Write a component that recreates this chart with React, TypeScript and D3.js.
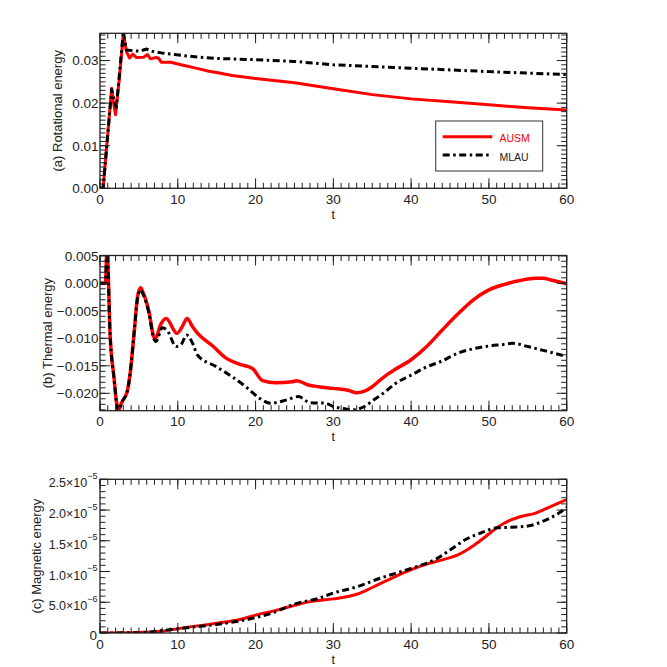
import React from 'react';
import * as d3 from 'd3';

const W = 667;
const H = 667;
const FONT = '"Liberation Sans", Arial, Helvetica, sans-serif';
const RED = '#ff0000';
const INK = '#222';
const DASHDOT = '7,3.5,2.5,3.5';

// shared time axis
const xMajor = [0, 10, 20, 30, 40, 50, 60];
const xMinor = d3.range(0, 61, 1);

// (a) rotational energy
const rotAusmT = [0, 0.4, 1.5, 1.7, 2.0, 2.5, 3.0, 3.4, 3.8, 4.2, 4.7, 5.6, 6.1, 6.5, 7.1, 7.5, 7.9, 9.1, 10.4, 12.6, 14, 15, 17, 20, 25, 30, 35, 40, 45, 50, 55, 60];
const rotAusm = [0, 0, 0.0235, 0.0205, 0.0173, 0.026, 0.0362, 0.0321, 0.0306, 0.0315, 0.0307, 0.0308, 0.0314, 0.0304, 0.0307, 0.0306, 0.0296, 0.0296, 0.029, 0.0281, 0.0275, 0.0272, 0.0265, 0.0258, 0.0248, 0.0234, 0.022, 0.021, 0.0203, 0.0196, 0.0189, 0.0184];
const rotMlauT = [0, 0.4, 1.5, 1.9, 2.1, 3.0, 3.4, 4.3, 5.1, 6.0, 6.7, 7.9, 9.6, 12.6, 15, 20, 25, 30, 40, 50, 60];
const rotMlau = [0, 0, 0.0232, 0.02, 0.019, 0.0368, 0.0325, 0.0323, 0.0322, 0.0327, 0.0322, 0.0318, 0.0314, 0.0308, 0.0305, 0.0302, 0.0298, 0.029, 0.0282, 0.0274, 0.0267];
const rotMajor = [0, 0.01, 0.02, 0.03];

// (b) thermal energy
const thAusmT = [0, 0.7, 0.9, 1.3, 1.8, 2.2, 2.35, 2.85, 3.5, 3.9, 4.4, 4.8, 5.2, 5.6, 6.3, 6.9, 7.1, 7.8, 8.5, 9.9, 10.6, 11.2, 11.9, 12.5, 14.5, 16.2, 17.9, 19.6, 20.9, 22.6, 24.7, 25.3, 26.8, 28.1, 30, 32, 33, 34, 35, 36, 37, 38, 40, 42, 44, 46, 48, 50, 52, 54, 56, 57, 58, 60];
const thAusm = [0, 0, 0.0065, -0.0094, -0.0172, -0.0224, -0.0231, -0.0215, -0.0197, -0.0161, -0.0088, -0.0027, -0.0008, -0.0019, -0.0052, -0.0097, -0.0101, -0.0075, -0.0064, -0.0091, -0.0078, -0.0064, -0.0079, -0.009, -0.0114, -0.0136, -0.0147, -0.0155, -0.0177, -0.0181, -0.0179, -0.0177, -0.0185, -0.0188, -0.0191, -0.0195, -0.0199, -0.0196, -0.0188, -0.0176, -0.0165, -0.0156, -0.0139, -0.0115, -0.0085, -0.0056, -0.003, -0.0012, -0.0002, 0.0005, 0.0009, 0.0009, 0.0006, -0.0001];
const thMlauT = [0, 0.7, 0.9, 1.3, 1.8, 2.2, 2.35, 2.85, 3.5, 3.9, 4.4, 4.8, 5.2, 5.6, 6.3, 6.9, 7.2, 8.0, 8.6, 9.8, 10.5, 11.1, 12.0, 12.5, 15, 17, 19, 20.5, 22, 24, 25.5, 27, 29, 30, 31, 32.5, 34, 35, 36.5, 38, 40, 42, 44, 46, 48, 50, 52, 53, 55, 57, 60];
const thMlau = [0, 0, 0.0065, -0.0094, -0.0172, -0.0224, -0.0231, -0.0215, -0.0197, -0.0161, -0.0088, -0.003, -0.0012, -0.0022, -0.0055, -0.01, -0.0106, -0.0081, -0.0085, -0.0115, -0.011, -0.0094, -0.0112, -0.013, -0.0152, -0.017, -0.0191, -0.0209, -0.0218, -0.0212, -0.0206, -0.0217, -0.0218, -0.0224, -0.0227, -0.023, -0.0224, -0.0214, -0.0199, -0.0182, -0.0167, -0.0152, -0.0141, -0.0127, -0.0119, -0.0114, -0.0111, -0.0109, -0.0115, -0.0122, -0.0133];
const thMajor = [-0.02, -0.015, -0.01, -0.005, 0, 0.005];

// (c) magnetic energy, in units of 1e-6
const magAusmT = [0, 5, 8, 10, 15, 18, 20, 23, 25, 27, 30, 33, 35, 37, 40, 42, 44, 46, 48, 50, 51, 52, 54, 56, 58, 60];
const magAusm = [0, 0.1, 0.3, 0.7, 1.6, 2.2, 2.9, 3.8, 4.5, 5.1, 5.55, 6.3, 7.4, 8.6, 10.3, 11.2, 11.9, 12.7, 14.2, 16.1, 17.1, 17.9, 18.9, 19.5, 20.6, 21.7];
const magMlauT = [0, 5, 8, 10, 15, 20, 22, 25, 28, 30, 33, 36, 40, 43, 45, 47, 49, 51, 53, 55, 57, 59, 60];
const magMlau = [0, 0.05, 0.4, 0.7, 1.4, 2.5, 3.2, 4.7, 5.6, 6.5, 7.5, 8.9, 10.5, 11.9, 13.5, 15.2, 16.3, 17.1, 17.2, 17.4, 18.2, 19.5, 20.4];
const magMajor = [0, 5e-6, 1e-5, 1.5e-5, 2e-5, 2.5e-5];

const LEFT = 100;
const RIGHT = 566.7;

type Series = { t: number[]; v: number[]; color: string; dash?: string; width: number };

interface PanelProps {
  id: string;
  top: number;
  bottom: number;
  yDomain: [number, number];
  yMajor: number[];
  yMinorStep: number;
  label: (v: number, y: number) => React.ReactNode;
  title: string;
  titleX: number;
  series: Series[];
  curve: d3.CurveFactory;
}

const Panel: React.FC<PanelProps> = ({ id, top, bottom, yDomain, yMajor, yMinorStep, label, title, titleX, series, curve }) => {
  const x = d3.scaleLinear().domain([0, 60]).range([LEFT, RIGHT]);
  const y = d3.scaleLinear().domain(yDomain).range([bottom, top]);
  const yMinor = d3.range(Math.ceil(yDomain[0] / yMinorStep), Math.floor(yDomain[1] / yMinorStep) + 1).map((k) => k * yMinorStep);

  const line = d3
    .line<[number, number]>()
    .x((d) => x(d[0]))
    .y((d) => y(d[1]))
    .curve(curve);

  return (
    <g>
      <defs>
        <clipPath id={id}>
          <rect x={LEFT} y={top} width={RIGHT - LEFT} height={bottom - top} />
        </clipPath>
      </defs>
      <g clipPath={`url(#${id})`}>
        {series.map((s, i) => (
          <path
            key={i}
            d={line(s.t.map((t, k) => [t, s.v[k]] as [number, number])) || ''}
            fill="none"
            stroke={s.color}
            strokeWidth={s.width}
            strokeDasharray={s.dash}
            strokeLinejoin="round"
          />
        ))}
      </g>
      <g stroke={INK} strokeWidth={1}>
        {xMinor.map((t) => (
          <g key={`xm${t}`}>
            <line x1={x(t)} x2={x(t)} y1={bottom} y2={bottom - 5.5} />
            <line x1={x(t)} x2={x(t)} y1={top} y2={top + 5.5} />
          </g>
        ))}
        {xMajor.map((t) => (
          <g key={`xM${t}`}>
            <line x1={x(t)} x2={x(t)} y1={bottom} y2={bottom - 10} />
            <line x1={x(t)} x2={x(t)} y1={top} y2={top + 10} />
          </g>
        ))}
        {yMinor.map((v) => (
          <g key={`ym${v}`}>
            <line x1={LEFT} x2={LEFT + 5.5} y1={y(v)} y2={y(v)} />
            <line x1={RIGHT} x2={RIGHT - 5.5} y1={y(v)} y2={y(v)} />
          </g>
        ))}
        {yMajor.map((v) => (
          <g key={`yM${v}`}>
            <line x1={LEFT} x2={LEFT + 10} y1={y(v)} y2={y(v)} />
            <line x1={RIGHT} x2={RIGHT - 10} y1={y(v)} y2={y(v)} />
          </g>
        ))}
      </g>
      <rect x={LEFT} y={top} width={RIGHT - LEFT} height={bottom - top} fill="none" stroke={INK} strokeWidth={1.3} />
      <g fontFamily={FONT} fill={INK}>
        {xMajor.map((t) => (
          <text key={`xl${t}`} x={x(t)} y={bottom + 15.5} fontSize={13.5} textAnchor="middle">
            {t}
          </text>
        ))}
        {yMajor.map((v) => (
          <g key={`yl${v}`}>{label(v, y(v))}</g>
        ))}
        <text x={(LEFT + RIGHT) / 2} y={bottom + 30.5} fontSize={12.5} textAnchor="middle">
          t
        </text>
        <text
          transform={`translate(${titleX},${(top + bottom) / 2}) rotate(-90)`}
          fontSize={13}
          textAnchor="middle"
        >
          {title}
        </text>
      </g>
    </g>
  );
};

const plainLabel = (fmt: (n: number) => string) => (v: number, yy: number) => (
  <text x={98.5} y={yy + 4.8} fontSize={13.5} textAnchor="end">
    {fmt(v)}
  </text>
);

const sciLabel = (v: number, yy: number) => {
  if (v === 0) {
    return (
      <text x={97} y={yy + 6.5} fontSize={13.5} textAnchor="end">
        0
      </text>
    );
  }
  const e = Math.floor(Math.log10(v) + 1e-9);
  const m = (v / Math.pow(10, e)).toFixed(1);
  return (
    <text x={97.5} y={yy + 8} fontSize={12.5} textAnchor="end">
      {`${m}×10`}
      <tspan fontSize={9} dy={-8.5}>{`−${-e}`}</tspan>
    </text>
  );
};

const scaleMag = (arr: number[]) => arr.map((d) => d * 1e-6);

export default function App() {
  return (
    <svg width={W} height={H} style={{ position: 'absolute', left: 0, top: 0, background: '#fff' }}>
      <Panel
        id="clipA"
        top={33.3}
        bottom={188.3}
        yDomain={[0, 0.0364]}
        yMajor={rotMajor}
        yMinorStep={0.001}
        label={plainLabel(d3.format('.2f'))}
        title="(a) Rotational energy"
        titleX={62}
        curve={d3.curveLinear}
        series={[
          { t: rotAusmT, v: rotAusm, color: RED, width: 3 },
          { t: rotMlauT, v: rotMlau, color: '#000', dash: DASHDOT, width: 3 },
        ]}
      />
      <Panel
        id="clipB"
        top={255.5}
        bottom={410.7}
        yDomain={[-0.02316, 0.00505]}
        yMajor={thMajor}
        yMinorStep={0.001}
        label={plainLabel(d3.format('.3f'))}
        title="(b) Thermal energy"
        titleX={51.5}
        curve={d3.curveMonotoneX}
        series={[
          { t: thAusmT, v: thAusm, color: RED, width: 3.5 },
          { t: thMlauT, v: thMlau, color: '#000', dash: DASHDOT, width: 3 },
        ]}
      />
      <Panel
        id="clipC"
        top={479.3}
        bottom={633}
        yDomain={[0, 2.5e-5]}
        yMajor={magMajor}
        yMinorStep={1e-6}
        label={sciLabel}
        title="(c) Magnetic energy"
        titleX={40.5}
        curve={d3.curveMonotoneX}
        series={[
          { t: magAusmT, v: scaleMag(magAusm), color: RED, width: 3 },
          { t: magMlauT, v: scaleMag(magMlau), color: '#000', dash: DASHDOT, width: 3 },
        ]}
      />
      <g fontFamily={FONT}>
        <rect x={435.7} y={121} width={107} height={50} fill="#fff" stroke="#333" strokeWidth={1} />
        <line x1={442.7} x2={492.3} y1={136.7} y2={136.7} stroke={RED} strokeWidth={3} />
        <text x={499.5} y={141.5} fontSize={10.5} fill={RED}>
          AUSM
        </text>
        <line x1={442.7} x2={492.3} y1={155} y2={155} stroke="#000" strokeWidth={3} strokeDasharray={DASHDOT} />
        <text x={499.5} y={160.5} fontSize={10.5} fill={INK}>
          MLAU
        </text>
      </g>
    </svg>
  );
}
